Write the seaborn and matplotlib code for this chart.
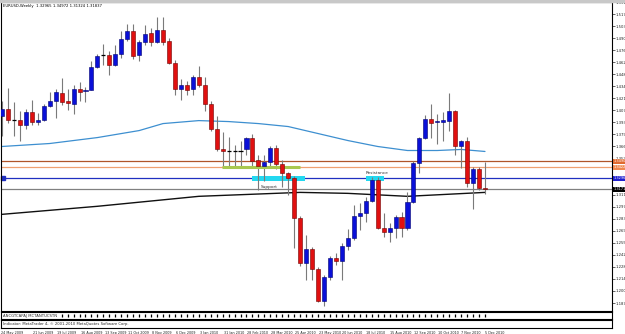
import numpy as np
import pandas as pd
import matplotlib
matplotlib.use("Agg")
import matplotlib.pyplot as plt
import seaborn as sns
from matplotlib.patches import Rectangle
from matplotlib.transforms import blended_transform_factory

# ---------------- data ----------------
open_ = [1.4014, 1.4094, 1.3968, 1.3968, 1.3911, 1.4060, 1.3946, 1.3968, 1.4128, 1.4185,
         1.4276, 1.4185, 1.4151, 1.4322, 1.4299, 1.4310, 1.4573, 1.4709, 1.4709, 1.4595,
         1.4721, 1.4892, 1.4983, 1.4709, 1.4858, 1.4960, 1.4858, 1.4994, 1.4869, 1.4618,
         1.4322, 1.4367, 1.4322, 1.4459, 1.4367, 1.4151, 1.3866, 1.3627, 1.3615, 1.3615,
         1.3615, 1.3627, 1.3763, 1.3501, 1.3433, 1.3478, 1.3638, 1.3456, 1.3353, 1.3296,
         1.2840, 1.2327, 1.2487, 1.2259, 1.1894, 1.2167, 1.2384, 1.2350, 1.2521, 1.2612,
         1.2863, 1.2897, 1.3034, 1.3273, 1.2726, 1.2680, 1.2726, 1.2851, 1.2726, 1.3022,
         1.3467, 1.3763, 1.3980, 1.3946, 1.3946, 1.3957, 1.4071, 1.3672, 1.3729, 1.3239,
         1.3399, 1.3182]
close = [1.4094, 1.3968, 1.3968, 1.3911, 1.4060, 1.3946, 1.3968, 1.4128, 1.4185, 1.4288,
         1.4174, 1.4162, 1.4322, 1.4288, 1.4310, 1.4573, 1.4698, 1.4709, 1.4595, 1.4721,
         1.4892, 1.4983, 1.4698, 1.4858, 1.4949, 1.4858, 1.4994, 1.4858, 1.4618, 1.4322,
         1.4367, 1.4310, 1.4459, 1.4367, 1.4151, 1.3866, 1.3627, 1.3604, 1.3615, 1.3615,
         1.3615, 1.3763, 1.3490, 1.3433, 1.3478, 1.3638, 1.3456, 1.3353, 1.3296, 1.2840,
         1.2327, 1.2487, 1.2259, 1.1894, 1.2167, 1.2384, 1.2350, 1.2521, 1.2612, 1.2863,
         1.2897, 1.3034, 1.3273, 1.2726, 1.2680, 1.2726, 1.2851, 1.2726, 1.3022, 1.3467,
         1.3763, 1.3980, 1.3934, 1.3957, 1.3968, 1.4071, 1.3672, 1.3729, 1.3239, 1.3399,
         1.3182, 1.3171]
high = [1.4185, 1.4333, 1.4174, 1.4071, 1.4094, 1.4196, 1.4048, 1.4151, 1.4288, 1.4322,
        1.4447, 1.4322, 1.4367, 1.4402, 1.4345, 1.4641, 1.4721, 1.4835, 1.4755, 1.4823,
        1.4983, 1.5063, 1.5063, 1.4880, 1.5051, 1.5017, 1.5143, 1.5143, 1.4903, 1.4652,
        1.4436, 1.4413, 1.4481, 1.4584, 1.4459, 1.4185, 1.4014, 1.3832, 1.3775, 1.3683,
        1.3718, 1.3775, 1.3809, 1.3558, 1.3558, 1.3672, 1.3683, 1.3501, 1.3364, 1.3319,
        1.2863, 1.2646, 1.2509, 1.2281, 1.2190, 1.2407, 1.2441, 1.2555, 1.2714, 1.2988,
        1.3011, 1.3079, 1.3307, 1.3307, 1.2897, 1.2783, 1.2874, 1.2908, 1.3136, 1.3490,
        1.3775, 1.4025, 1.4151, 1.4037, 1.4060, 1.4276, 1.4083, 1.3740, 1.3775, 1.3422,
        1.3422, 1.3478]
low = [1.3786, 1.3934, 1.3786, 1.3729, 1.3866, 1.3911, 1.3911, 1.3957, 1.4117, 1.3991,
       1.4139, 1.4083, 1.4037, 1.4185, 1.4174, 1.4310, 1.4561, 1.4595, 1.4481, 1.4584,
       1.4675, 1.4869, 1.4664, 1.4641, 1.4823, 1.4812, 1.4846, 1.4823, 1.4607, 1.4253,
       1.4196, 1.4253, 1.4253, 1.4345, 1.4071, 1.3843, 1.3604, 1.3422, 1.3422, 1.3422,
       1.3422, 1.3558, 1.3422, 1.3159, 1.3262, 1.3410, 1.3399, 1.3193, 1.3102, 1.2498,
       1.2293, 1.2133, 1.2133, 1.1882, 1.1837, 1.2133, 1.2304, 1.2133, 1.2475, 1.2589,
       1.2703, 1.2794, 1.3022, 1.2714, 1.2623, 1.2566, 1.2612, 1.2623, 1.2703, 1.3011,
       1.3353, 1.3752, 1.3763, 1.3695, 1.3729, 1.3843, 1.3569, 1.3410, 1.3193, 1.2943,
       1.3159, 1.3113]

ma_fast_idx = [0, 8, 16, 23, 27, 33, 38, 43, 48, 53, 58, 63, 68, 73, 77, 81]
ma_fast_val = [1.3661, 1.3695, 1.3763, 1.3843, 1.3923, 1.3957, 1.3946, 1.3923, 1.3889,
               1.3809, 1.3729, 1.3661, 1.3615, 1.3615, 1.3627, 1.3604]
ma_slow_idx = [0, 16, 33, 50, 58, 68, 81]
ma_slow_val = [1.2885, 1.2977, 1.3091, 1.3136, 1.3125, 1.3091, 1.3136]

date_labels = ["24 May 2009", "21 Jun 2009", "19 Jul 2009", "16 Aug 2009", "13 Sep 2009",
               "11 Oct 2009", "8 Nov 2009", "6 Dec 2009", "3 Jan 2010", "31 Jan 2010",
               "28 Feb 2010", "28 Mar 2010", "25 Apr 2010", "23 May 2010", "20 Jun 2010",
               "18 Jul 2010", "15 Aug 2010", "12 Sep 2010", "10 Oct 2010", "7 Nov 2010",
               "5 Dec 2010"]
date_pos = [-0.4, 5, 9, 13, 17, 21, 25, 29, 33, 37, 41, 45, 49, 53, 57, 61, 65, 69, 73, 77, 81]

price_ticks = [1.18708, 1.20085, 1.21462, 1.22839, 1.24216, 1.25593, 1.26970, 1.28347,
               1.29724, 1.31101, 1.35232, 1.36609, 1.37986, 1.39363, 1.40740, 1.42117,
               1.43494, 1.44871, 1.46248, 1.47625, 1.49002, 1.50379, 1.51756, 1.53133]

level_prices = [1.3490, 1.3422, 1.3296, 1.3171]
level_colors = ["#b0562a", "#f0a070", "#2030c0", "#808080"]
label_bg = ["#e06a30", "#f08850", "#2020d0", "#000000"]

green_level = 1.3422
green_span = [36.9, 50.0]
support_box = [41.9, 50.8, 1.3262, 1.3319]
resist_box = [61.0, 64.0, 1.3262, 1.3319]

header = "EURUSD,Weekly  1.32965 1.34972 1.31324 1.31837"

# ---------------- figure ----------------
sns.set_style("white")
plt.rcParams['font.family'] = ['DejaVu Sans']
W, H = 625, 334
fig = plt.figure(figsize=(W / 100, H / 100), dpi=100)
fig.patch.set_facecolor("white")
FS = 2.7


def rect(x0, y0, x1, y1):
    return [x0 / W, 1 - y1 / H, (x1 - x0) / W, (y1 - y0) / H]


fig.patches.append(Rectangle((0, 1 - 2 / H), 1, 2 / H, transform=fig.transFigure,
                             color="#c8c8c8", zorder=0))

ax = fig.add_axes(rect(1, 2, 612, 311))
xlim = (-0.17, 102.3)
ax.set_xlim(*xlim)
ax.set_ylim(1.17796, 1.5302)

df = pd.DataFrame({"o": open_, "h": high, "l": low, "c": close})
df["i"] = np.arange(len(df))

# wicks
ax.vlines(df["i"], df["l"], df["h"], color="#7a7a7a", lw=0.8, zorder=3)
# bodies
up = df["c"] > df["o"]
dn = df["c"] < df["o"]
eq = df["c"] == df["o"]
bw = 0.68
ax.bar(df["i"][up], (df["c"] - df["o"])[up], bottom=df["o"][up], width=bw,
       color="#0a10d8", edgecolor="#000070", lw=0.4, zorder=4)
ax.bar(df["i"][dn], (df["o"] - df["c"])[dn], bottom=df["c"][dn], width=bw,
       color="#e01010", edgecolor="#700000", lw=0.4, zorder=4)
ax.hlines(df["o"][eq], df["i"][eq] - bw / 2, df["i"][eq] + bw / 2, color="black",
          lw=0.9, zorder=4)

# moving averages
sns.lineplot(x=ma_fast_idx, y=ma_fast_val, ax=ax, color="#3d8fd0", lw=0.9, zorder=2)
sns.lineplot(x=ma_slow_idx, y=ma_slow_val, ax=ax, color="#101010", lw=1.0, zorder=2)

# horizontal levels
for p, c in zip(level_prices, level_colors):
    ax.axhline(p, color=c, lw=0.9, zorder=2)
ax.hlines(green_level, green_span[0], green_span[1], color="#a8c850", lw=2.2, zorder=3)
ax.plot([0.004], [level_prices[2]], marker="s", ms=2.2, color="#2030c0",
        transform=blended_transform_factory(ax.transAxes, ax.transData), clip_on=False)

for b in (support_box, resist_box):
    ax.add_patch(Rectangle((b[0], b[2]), b[1] - b[0], b[3] - b[2], color="#22d8f0",
                           lw=0, zorder=2.5))
ax.text(43.4, 1.3200, "Support", fontsize=FS + 0.4, color="#303030", va="center",
        ha="left", zorder=6)
ax.text(61.0, 1.3355, "Resistance", fontsize=FS + 0.4, color="#303030", va="center",
        ha="left", zorder=6)

# header
ax.text(0.003, 0.993, header, transform=ax.transAxes, fontsize=FS, va="top", ha="left",
        color="black")

# right price axis
ax.yaxis.tick_right()
ax.set_yticks(price_ticks)
ax.set_yticklabels([f"{v:.5f}" for v in price_ticks])
ax.tick_params(axis="y", which="both", right=True, length=2, width=0.5, pad=0.8,
               labelsize=FS, labelcolor="#202020")
ax.set_xticks([])
for s in ax.spines.values():
    s.set_color("black")
    s.set_linewidth(0.8)

bt = blended_transform_factory(ax.transAxes, ax.transData)
for p, bg in zip(level_prices, label_bg):
    ax.text(1.003, p, f"{p:.5f}", transform=bt, fontsize=FS - 0.2, va="center", ha="left",
            color="white", clip_on=False,
            bbox=dict(boxstyle="square,pad=0.1", fc=bg, ec="none"))

# dots indicator panel
ax2 = fig.add_axes(rect(1, 312, 612, 319))
ax2.set_xlim(*xlim)
ax2.set_ylim(0, 1)
ax2.set_xticks([]); ax2.set_yticks([])
for s in ax2.spines.values():
    s.set_color("black"); s.set_linewidth(0.8)
idx = np.arange(len(open_))
ax2.vlines(idx[10:], 0.3, 0.7, color="black", lw=0.9)
ax2.text(0.003, 0.5, "ANCGTCAPAJ MCTANTUCSTN", transform=ax2.transAxes, fontsize=FS,
         va="center", ha="left")

# copyright panel
ax3 = fig.add_axes(rect(1, 320, 612, 328))
ax3.set_xlim(*xlim)
ax3.set_ylim(0, 1)
ax3.set_yticks([])
for s in ax3.spines.values():
    s.set_color("black"); s.set_linewidth(0.8)
ax3.text(0.003, 0.5, "Indicator: MetaTrader 4, \u00a9 2001-2010 MetaQuotes Software Corp.",
         transform=ax3.transAxes, fontsize=FS, va="center", ha="left")
ax3.set_xticks(date_pos)
ax3.set_xticklabels(date_labels, ha="left")
ax3.tick_params(axis="x", length=1.5, width=0.5, pad=0.6, labelsize=2.4,
                labelcolor="#202020")

fig.savefig("out.png", dpi=100, facecolor="white")
